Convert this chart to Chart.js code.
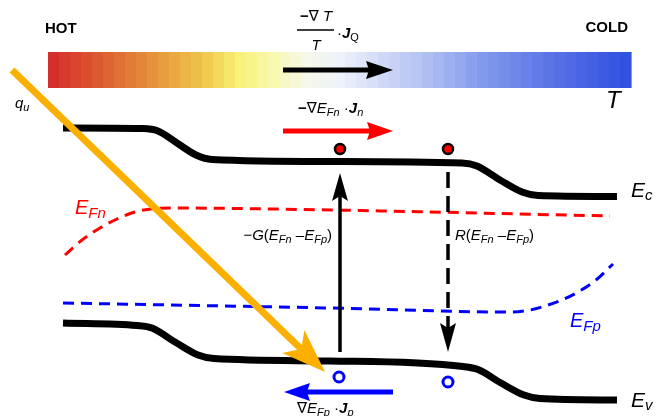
<!DOCTYPE html>
<html>
<head>
<meta charset="utf-8">
<script src="https://cdn.jsdelivr.net/npm/chart.js@4.4.1/dist/chart.umd.min.js"></script>
<style>
  html, body { margin: 0; padding: 0; background: #fff; }
  canvas { display: block; }
</style>
</head>
<body>
<canvas id="band" width="659" height="416"></canvas>
<script>
// band diagram, drawing units (y grows downward)
const ecBand = [[63,128],[143,128.5],[158,131],[177,143],[196,155],[212,159.5],[330,161.5],[462,163],[477,166],[500,180],[522,192],[538,195.5],[617,196.5]];
const evBand = [[63,323],[137,325.5],[152,328],[175,342],[198,355],[214,358.5],[330,361],[463,366.5],[478,369.5],[501,383],[524,395],[540,398.5],[617,400]];
const efnLevel = [[65,255],[82,240],[100,228],[117,219],[135,212],[155,208.5],[175,208],[330,210],[610,216]];
const efpLevel = [[63,303],[330,308],[510,312],[530,310],[545,306],[562,300],[578,292],[596,280],[613,264]];
const electrons = [[340,149],[448,149]];
const holes = [[339,377],[448,382]];

// arrows: [start, tip]
const heatArrow = [[12,70],[325,372]];
const genArrow = [[340,352],[340,173]];
const recArrow = [[448,172],[448,352]];
const jqArrow = [[283,70],[393,70]];
const jnArrow = [[283,131],[393,131]];
const jpArrow = [[393,392],[284,392]];

const tempStops = [[0,'#d42a2c'],[0.1,'#de6232'],[0.18,'#e6923c'],[0.27,'#f0c84a'],[0.33,'#f8f27a'],[0.38,'#f8f8a8'],[0.44,'#f6f8e8'],[0.5,'#eef2fa'],[0.56,'#d6dff8'],[0.65,'#aebef2'],[0.75,'#8098ec'],[0.86,'#5a74e6'],[1,'#2e4ee0']];
const tempBar = { x0: 48, x1: 631, y0: 52, y1: 88, bands: 53 };

const FONT = '"Liberation Sans", Arial, "DejaVu Sans", sans-serif';

const pts = a => a.map(p => ({ x: p[0], y: p[1] }));
// pull the shaft end back inside the head
function shaft(a, pull) {
  const [s, t] = a;
  const dx = t[0] - s[0], dy = t[1] - s[1], len = Math.hypot(dx, dy);
  return [{ x: s[0], y: s[1] }, { x: t[0] - dx / len * pull, y: t[1] - dy / len * pull }];
}

const heads = [
  { a: heatArrow, color: '#fbb000', len: 44, half: 16, notch: 11 },
  { a: genArrow, color: '#000', len: 28, half: 8, notch: 5 },
  { a: recArrow, color: '#000', len: 29, half: 8, notch: 5 },
  { a: jqArrow, color: '#000', len: 27, half: 9, notch: 3 },
  { a: jnArrow, color: '#ff0000', len: 26, half: 9, notch: 3 },
  { a: jpArrow, color: '#0000ff', len: 26, half: 9, notch: 3 }
];

const S = 15, SS = 11, M = 15, MS = 11;
const labels = [
  { x: 45, y: 33, segs: [{ t: 'HOT', size: 15, b: true }] },
  { x: 628, y: 32, align: 'right', segs: [{ t: 'COLD', size: 15, b: true }] },
  { x: 316, y: 21, align: 'center', segs: [{ t: '−', size: S, b: true }, { t: '∇', size: S }, { t: ' T', size: S, it: true }] },
  { x: 316, y: 50, align: 'center', segs: [{ t: 'T', size: S, it: true }] },
  { x: 337, y: 38, segs: [{ t: '·', size: S }, { t: 'J', size: S, it: true, b: true }, { t: 'Q', size: SS, dy: 3 }] },
  { x: 606, y: 108, segs: [{ t: 'T', size: 24, it: true }] },
  { x: 15, y: 108, segs: [{ t: 'q', size: S, it: true }, { t: 'u', size: SS, it: true, dy: 3 }] },
  { x: 298, y: 113, segs: [{ t: '−', size: S, b: true }, { t: '∇', size: S }, { t: 'E', size: S, it: true }, { t: 'Fn', size: SS, it: true, dy: 3 }, { t: ' ·', size: S }, { t: 'J', size: S, it: true, b: true }, { t: 'n', size: SS, it: true, dy: 3 }] },
  { x: 75, y: 214, segs: [{ t: 'E', size: 20, it: true, c: '#ff0000' }, { t: 'Fn', size: 15, it: true, dy: 4, c: '#ff0000' }] },
  { x: 631, y: 197, segs: [{ t: 'E', size: 21, it: true }, { t: 'c', size: 15, it: true, dy: 3 }] },
  { x: 631, y: 407, segs: [{ t: 'E', size: 21, it: true }, { t: 'v', size: 15, it: true, dy: 3 }] },
  { x: 570, y: 327, segs: [{ t: 'E', size: 20, it: true, c: '#0000ff' }, { t: 'Fp', size: 15, it: true, dy: 4, c: '#0000ff' }] },
  { x: 332, y: 240, align: 'right', segs: [{ t: '−', size: M }, { t: 'G', size: M, it: true }, { t: '(', size: M }, { t: 'E', size: M, it: true }, { t: 'Fn', size: MS, it: true, dy: 3 }, { t: ' –', size: M }, { t: 'E', size: M, it: true }, { t: 'Fp', size: MS, it: true, dy: 3 }, { t: ')', size: M }] },
  { x: 455, y: 240, segs: [{ t: 'R', size: M, it: true }, { t: '(', size: M }, { t: 'E', size: M, it: true }, { t: 'Fn', size: MS, it: true, dy: 3 }, { t: ' –', size: M }, { t: 'E', size: M, it: true }, { t: 'Fp', size: MS, it: true, dy: 3 }, { t: ')', size: M }] },
  { x: 297, y: 413, segs: [{ t: '∇', size: S }, { t: 'E', size: S, it: true }, { t: 'Fp', size: SS, it: true, dy: 3 }, { t: ' ·', size: S }, { t: 'J', size: S, it: true, b: true }, { t: 'p', size: SS, it: true, dy: 3 }] }
];

function fontOf(s) {
  return (s.it ? 'italic ' : '') + (s.b ? 'bold ' : '') + s.size + 'px ' + FONT;
}

function drawRich(ctx, x, y, segs, align) {
  let w = 0;
  segs.forEach(s => { ctx.font = fontOf(s); w += ctx.measureText(s.t).width; });
  let cx = align === 'right' ? x - w : align === 'center' ? x - w / 2 : x;
  segs.forEach(s => {
    ctx.font = fontOf(s);
    ctx.fillStyle = s.c || '#000';
    ctx.fillText(s.t, cx, y + (s.dy || 0));
    cx += ctx.measureText(s.t).width;
  });
}

function mix(c1, c2, f) {
  const a = parseInt(c1.slice(1), 16), b = parseInt(c2.slice(1), 16);
  const ch = sh => Math.round(((a >> sh) & 255) * (1 - f) + ((b >> sh) & 255) * f);
  return 'rgb(' + ch(16) + ',' + ch(8) + ',' + ch(0) + ')';
}
function tempColor(t) {
  for (let i = 1; i < tempStops.length; i++) {
    if (t <= tempStops[i][0]) {
      const [t0, c0] = tempStops[i - 1], [t1, c1] = tempStops[i];
      return mix(c0, c1, (t - t0) / (t1 - t0));
    }
  }
  return tempStops[tempStops.length - 1][1];
}

const diagram = {
  id: 'diagram',
  beforeDatasetsDraw(chart) {
    const { ctx, scales: { x, y } } = chart;
    const x0 = x.getPixelForValue(tempBar.x0), x1 = x.getPixelForValue(tempBar.x1);
    const y0 = y.getPixelForValue(tempBar.y0), y1 = y.getPixelForValue(tempBar.y1);
    const bw = (x1 - x0) / tempBar.bands;
    ctx.save();
    for (let i = 0; i < tempBar.bands; i++) {
      ctx.fillStyle = tempColor((i + 0.5) / tempBar.bands);
      ctx.fillRect(x0 + i * bw, y0, bw + 0.6, y1 - y0);
    }
    ctx.restore();
  },
  afterDatasetsDraw(chart) {
    const { ctx, scales: { x, y } } = chart;
    ctx.save();
    heads.forEach(h => {
      const [s, t] = h.a;
      const tx = x.getPixelForValue(t[0]), ty = y.getPixelForValue(t[1]);
      const sx = x.getPixelForValue(s[0]), sy = y.getPixelForValue(s[1]);
      const len = Math.hypot(tx - sx, ty - sy);
      const ux = (tx - sx) / len, uy = (ty - sy) / len;
      const nx = -uy, ny = ux;
      const bx = tx - ux * h.len, by = ty - uy * h.len;
      ctx.fillStyle = h.color;
      ctx.beginPath();
      ctx.moveTo(tx, ty);
      ctx.lineTo(bx + nx * h.half, by + ny * h.half);
      ctx.lineTo(bx + ux * h.notch, by + uy * h.notch);
      ctx.lineTo(bx - nx * h.half, by - ny * h.half);
      ctx.closePath();
      ctx.fill();
    });
    // fraction bar
    ctx.strokeStyle = '#000';
    ctx.lineWidth = 1.4;
    ctx.beginPath();
    ctx.moveTo(x.getPixelForValue(297), y.getPixelForValue(30));
    ctx.lineTo(x.getPixelForValue(334), y.getPixelForValue(30));
    ctx.stroke();
    ctx.textBaseline = 'alphabetic';
    labels.forEach(l => drawRich(ctx, x.getPixelForValue(l.x), y.getPixelForValue(l.y), l.segs, l.align));
    ctx.restore();
  }
};

const lineDs = (data, color, width, extra) => Object.assign({
  data, borderColor: color, borderWidth: width, pointRadius: 0, fill: false,
  clip: false, order: 2, borderCapStyle: 'butt', borderJoinStyle: 'round'
}, extra || {});

new Chart(document.getElementById('band'), {
  type: 'line',
  data: {
    datasets: [
      lineDs(pts(ecBand), '#000', 7, { cubicInterpolationMode: 'monotone' }),
      lineDs(pts(evBand), '#000', 7, { cubicInterpolationMode: 'monotone' }),
      lineDs(pts(efnLevel), '#ff0000', 3, { cubicInterpolationMode: 'monotone', borderDash: [11, 7], order: 3 }),
      lineDs(pts(efpLevel), '#0000ff', 3, { cubicInterpolationMode: 'monotone', borderDash: [11, 7], order: 3 }),
      lineDs(shaft(genArrow, 12), '#000', 3.5, { order: 1 }),
      lineDs(shaft(recArrow, 12), '#000', 3.5, { borderDash: [16, 8], order: 1 }),
      lineDs(shaft(jqArrow, 12), '#000', 5, { order: 1 }),
      lineDs(shaft(jnArrow, 12), '#ff0000', 5, { order: 1 }),
      lineDs(shaft(jpArrow, 12), '#0000ff', 5, { order: 1 }),
      lineDs(shaft(heatArrow, 22), '#fbb000', 7, { order: 0 }),
      { data: pts(electrons), showLine: false, pointRadius: 5, pointBackgroundColor: '#ff0000',
        pointBorderColor: '#000', pointBorderWidth: 2.5, clip: false, order: 0 },
      { data: pts(holes), showLine: false, pointRadius: 5, pointBackgroundColor: '#fff',
        pointBorderColor: '#0000ff', pointBorderWidth: 3, clip: false, order: 0 }
    ]
  },
  options: {
    responsive: false,
    animation: false,
    devicePixelRatio: 1,
    layout: { padding: 0, autoPadding: false },
    events: [],
    scales: {
      x: { type: 'linear', min: 0, max: 659, display: false },
      y: { type: 'linear', min: 0, max: 416, reverse: true, display: false }
    },
    plugins: { legend: { display: false }, tooltip: { enabled: false } }
  },
  plugins: [diagram]
});
</script>
</body>
</html>
